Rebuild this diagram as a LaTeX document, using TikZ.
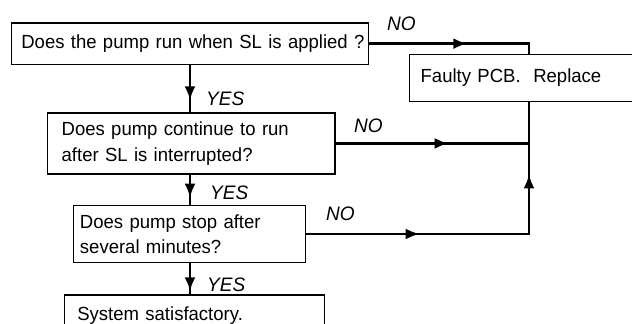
\documentclass[tikz,border=0pt]{standalone}
\usepackage{fontspec}
\setmainfont[FakeStretch=0.975]{Liberation Sans}
\usetikzlibrary{arrows.meta,decorations.markings}
\begin{document}
\begin{tikzpicture}[x=1pt,y=-1pt,
  box/.style={draw=black, line width=1.3pt, anchor=north west, align=left, inner ysep=0pt, font=\fontsize{19}{26.5}\selectfont},
  lbl/.style={anchor=base west, inner sep=0pt, font=\fontsize{19.5}{19.5}\selectfont\itshape},
  conn/.style={line width=2.7pt, postaction={decorate}},
  tipat/.style={decoration={markings, mark=at position #1 with {\arrow{Latex[length=14pt,width=11pt]}}}},
  tiptwo/.style 2 args={decoration={markings,
      mark=at position #1 with {\arrow{Latex[length=14pt,width=11pt]}},
      mark=at position #2 with {\arrow{Latex[length=14pt,width=11pt]}}}},
]
\useasboundingbox (0,0) rectangle (632,324);
\coordinate (spine) at (190,0);
\coordinate (rail) at (529,0);

\node[box, inner xsep=10pt, text width=337.3pt, minimum height=41.4pt] (q1) at (10.7,22.3) {\mbox{Does the pump run when SL is applied ?}};
\node[box, inner xsep=14.3pt, text width=259pt, minimum height=61pt, font=\fontsize{19}{26.5}\selectfont] (q2) at (46.7,112.3) {Does pump continue to run\\after SL is interrupted?};
\node[box, inner xsep=6.6pt, text width=219.1pt, minimum height=56.7pt, font=\fontsize{19}{24.7}\selectfont] (q3) at (72.7,205) {Does pump stop after\\several minutes?};
\node[box, inner xsep=12.7pt, text width=234.1pt, minimum height=40.4pt] (ok) at (64,294.3) {System satisfactory.};
\node[box, inner xsep=11pt, text width=229pt, minimum height=46.7pt] (pcb) at (409,54) {Faulty PCB.\ \ Replace};

\draw[conn, tipat=35.3pt] (q1.south -| spine) -- (q2.north -| spine);
\draw[conn, tipat=23pt] (q2.south -| spine) -- (q3.north -| spine);
\draw[conn, tipat=28.3pt] (q3.south -| spine) -- (ok.north -| spine);
\draw[conn, tipat=98pt] (q1.east) -- (q1.east -| rail) -- (pcb.north -| rail);
\draw[conn, tipat=113pt] (q2.east) -- (q2.east -| rail);
\draw[conn, tiptwo={113.3pt}{282.3pt}] (q3.east) -- (q3.east -| rail) -- (pcb.south -| rail);

\node[lbl] (no1) at (387,30) {NO};
\node[lbl] (no2) at (354,132) {NO};
\node[lbl] (no3) at (326,220) {NO};
\node[lbl] (yes1) at (206,105.7) {YES};
\node[lbl] (yes2) at (210,199) {YES};
\node[lbl] (yes3) at (207,291.7) {YES};
\end{tikzpicture}
\end{document}
